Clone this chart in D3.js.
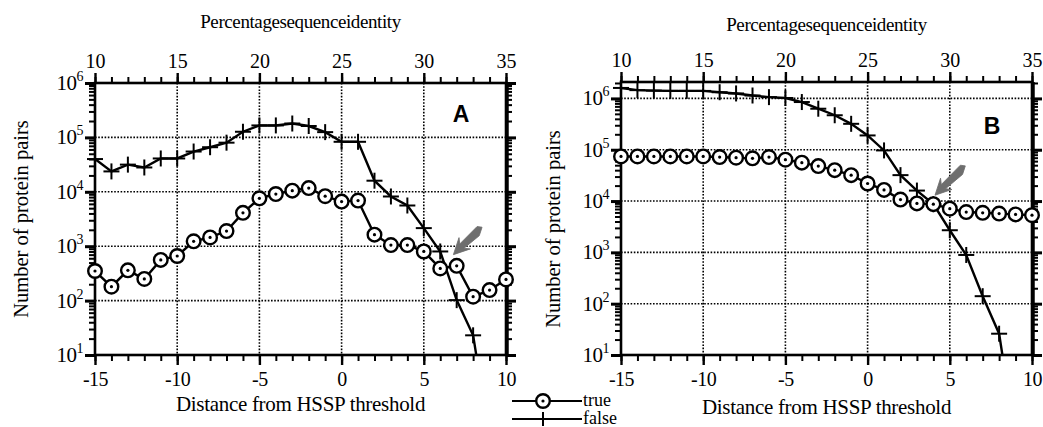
<!DOCTYPE html>
<html>
<head>
<meta charset="utf-8">
<script src="https://cdn.jsdelivr.net/npm/d3@7"></script>
<style>
  body { margin: 0; background: #fff; }
  svg text { font-family: "Liberation Serif", "DejaVu Serif", serif; fill: #000; }
</style>
</head>
<body>
<svg width="1043" height="427"></svg>
<script>
var svg = d3.select("svg");

// data
var distance = [-15,-14,-13,-12,-11,-10,-9,-8,-7,-6,-5,-4,-3,-2,-1,0,1,2,3,4,5,6,7,8,9,10];
var identityTicks = [10, 15, 20, 25, 30, 35];
var distanceTicks = [-15, -10, -5, 0, 5, 10];

var trueA  = [350,180,360,250,560,660,1230,1450,1900,4100,7600,9100,10500,11700,8300,6600,6900,1630,1050,1050,800,390,435,118,156,245];
var falseA = [40000,23700,31600,28000,41000,41000,55000,66000,80000,127000,166000,166000,180000,162000,125000,83000,83000,16000,8200,5600,2150,800,102,23,0.3,null];

var trueB  = [74000,74000,74000,74000,74000,74000,72000,70000,68000,72000,64000,56000,48000,40000,32000,22000,16500,10700,9000,8700,7100,6100,5900,5700,5500,5300];
var falseB = [1600000,1450000,1420000,1400000,1400000,1400000,1320000,1250000,1140000,1060000,1020000,850000,630000,470000,320000,190000,97000,32000,16000,8700,2700,890,140,26,0.22,null];

function drawPanel(o) {
  var g = svg.append("g");
  var x = d3.scaleLinear().domain([-15, 10]).range([o.left, o.right]);
  var xTop = d3.scaleLinear().domain([10, 35]).range([o.left, o.right]);
  var y = d3.scaleLog().domain([10, o.ymax]).range([o.bottom, o.top]);

  var clipId = "clip" + o.name;
  g.append("clipPath").attr("id", clipId).append("rect")
    .attr("x", o.left).attr("y", o.top - 12).attr("width", o.right - o.left).attr("height", o.bottom - o.top + 12);

  // dotted grid
  var grid = g.append("g").attr("stroke", "#000").attr("stroke-width", 1.6).attr("stroke-dasharray", "1.6,1.6");
  grid.selectAll(".gx").data([-10, -5, 0, 5]).enter().append("line")
    .attr("x1", function(d) { return x(d); }).attr("x2", function(d) { return x(d); })
    .attr("y1", o.top).attr("y2", o.bottom);
  grid.selectAll(".gy").data(o.gridY).enter().append("line")
    .attr("y1", function(d) { return y(d); }).attr("y2", function(d) { return y(d); })
    .attr("x1", o.left).attr("x2", o.right);

  // x axes (bottom + top), integer minor ticks
  g.append("g").attr("transform", "translate(0," + o.bottom + ")")
    .call(d3.axisBottom(x).tickValues(distance).tickSize(6).tickFormat(""))
    .call(function(a) { a.select(".domain").remove(); a.selectAll("line").attr("stroke-width", 2); });
  g.append("g").attr("transform", "translate(0," + o.bottom + ")")
    .call(d3.axisBottom(x).tickValues(distanceTicks).tickSize(10).tickPadding(7))
    .call(function(a) {
      a.select(".domain").remove();
      a.selectAll("line").attr("stroke-width", 2.4);
      a.selectAll("text").style("font-size", "20px").style("letter-spacing", "-0.5px")
        .text(function(d) { return d < 0 ? "-" + (-d) : d; });
    });
  g.append("g").attr("transform", "translate(0," + o.top + ")")
    .call(d3.axisTop(xTop).tickValues(d3.range(10, 36)).tickSize(6).tickFormat(""))
    .call(function(a) { a.select(".domain").remove(); a.selectAll("line").attr("stroke-width", 2); });
  g.append("g").attr("transform", "translate(0," + o.top + ")")
    .call(d3.axisTop(xTop).tickValues(identityTicks).tickSize(10).tickPadding(o.topPad))
    .call(function(a) {
      a.select(".domain").remove();
      a.selectAll("line").attr("stroke-width", 2.4);
      a.selectAll("text").style("font-size", "20px");
    });

  // y axes left and right, log minor ticks
  var decades = [10, 100, 1000, 10000, 100000, 1000000];
  var minorY = [];
  decades.forEach(function(dec) {
    for (var k = 2; k <= 9; k++) if (dec * k <= o.ymax) minorY.push(dec * k);
  });
  [[o.left, d3.axisLeft], [o.right, d3.axisRight]].forEach(function(s) {
    g.append("g").attr("transform", "translate(" + s[0] + ",0)")
      .call(s[1](y).tickValues(minorY).tickSize(6).tickFormat(""))
      .call(function(a) { a.select(".domain").remove(); a.selectAll("line").attr("stroke-width", 2); });
    g.append("g").attr("transform", "translate(" + s[0] + ",0)")
      .call(s[1](y).tickValues(decades).tickSize(10).tickFormat(""))
      .call(function(a) { a.select(".domain").remove(); a.selectAll("line").attr("stroke-width", 3); });
  });

  // y labels 10^n
  var lab = g.append("g").selectAll("text").data(decades).enter().append("text")
    .attr("x", o.left - 12).attr("y", function(d) { return y(d) + 7; })
    .attr("text-anchor", "end").style("font-size", "21px").style("letter-spacing", "-0.5px");
  lab.append("tspan").text("10");
  lab.append("tspan").attr("dy", -9).style("font-size", "14px").text(function(d) { return Math.round(Math.log10(d)); });

  // frame
  g.append("rect").attr("x", o.left).attr("y", o.top).attr("width", o.right - o.left).attr("height", o.bottom - o.top)
    .attr("fill", "none").attr("stroke", "#000").attr("stroke-width", 2.6);
  g.append("line").attr("x1", o.right + 1).attr("x2", o.right + 1).attr("y1", o.top).attr("y2", o.bottom)
    .attr("stroke", "#000").attr("stroke-width", 3.5);

  // series
  var line = d3.line()
    .defined(function(d) { return d[1] != null; })
    .x(function(d) { return x(d[0]); })
    .y(function(d) { return y(d[1]); });
  var tData = distance.map(function(d, i) { return [d, o.trueVals[i]]; });
  var fData = distance.map(function(d, i) { return [d, o.falseVals[i]]; });
  var plot = g.append("g").attr("clip-path", "url(#" + clipId + ")");
  [tData, fData].forEach(function(dat) {
    plot.append("path").datum(dat).attr("d", line)
      .attr("fill", "none").attr("stroke", "#000").attr("stroke-width", 2.4);
  });

  var fPts = fData.filter(function(d) { return d[1] != null && d[1] >= 10; });
  var cross = g.append("g").attr("stroke", "#000").attr("stroke-width", 2).selectAll("g").data(fPts).enter().append("g")
    .attr("transform", function(d) { return "translate(" + x(d[0]) + "," + y(d[1]) + ")"; });
  cross.append("line").attr("x1", -8).attr("x2", 8);
  cross.append("line").attr("y1", -8).attr("y2", 8);

  var circ = g.append("g").selectAll("g").data(tData).enter().append("g")
    .attr("transform", function(d) { return "translate(" + x(d[0]) + "," + y(d[1]) + ")"; });
  circ.append("circle").attr("r", 6.8).attr("fill", "#fff").attr("stroke", "#000").attr("stroke-width", 2.4);
  circ.append("circle").attr("r", 1.6).attr("fill", "#000");

  // arrow annotation
  var ax1 = x(o.arrow[0][0]), ay1 = y(o.arrow[0][1]), ax2 = x(o.arrow[1][0]), ay2 = y(o.arrow[1][1]);
  var ang = Math.atan2(ay2 - ay1, ax2 - ax1);
  var len = Math.hypot(ax2 - ax1, ay2 - ay1);
  var arr = g.append("g").attr("transform", "translate(" + ax2 + "," + ay2 + ") rotate(" + (ang * 180 / Math.PI) + ")");
  arr.append("path")
    .attr("d", "M0,0 L-16,-8 L-12,-3 L-" + (len - 8) + ",-5 L-" + len + ",-1 L-" + (len - 3) + ",3 L-12,3 L-16,8 Z")
    .attr("fill", "#6e6e6e").attr("stroke", "#6e6e6e").attr("stroke-width", 0.8);

  // panel letter
  g.append("text").attr("x", o.letter[0]).attr("y", o.letter[1])
    .style("font-family", "Liberation Sans, Arial, sans-serif").style("font-weight", "bold").style("font-size", "23px")
    .attr("text-anchor", "middle").text(o.name);

  // axis titles
  var cx = (o.left + o.right) / 2;
  g.append("text").attr("x", cx).attr("y", o.titleY).attr("text-anchor", "middle")
    .style("font-size", "19px").style("letter-spacing", "-0.4px").text("Percentagesequenceidentity");
  g.append("text").attr("x", cx).attr("y", o.xlabY).attr("text-anchor", "middle")
    .style("font-size", "21px").style("letter-spacing", "-0.3px").text("Distance from HSSP threshold");
  g.append("text").attr("transform", "translate(" + o.ylabX + "," + o.ylabCy + ") rotate(-90)")
    .attr("text-anchor", "middle").style("font-size", "20.5px").text("Number of protein pairs");
}

drawPanel({
  name: "A", left: 95, right: 506, top: 83, bottom: 355, ymax: 1e6,
  gridY: [100, 1000, 10000, 100000],
  trueVals: trueA, falseVals: falseA,
  topPad: 5, titleY: 28, xlabY: 411, ylabX: 28, ylabCy: 219,
  letter: [461, 122], arrow: [[8.5, 2300], [6.8, 700]]
});

drawPanel({
  name: "B", left: 621, right: 1032, top: 82, bottom: 355, ymax: Math.pow(10, 6.32),
  gridY: [100, 1000, 10000, 100000, 1000000],
  trueVals: trueB, falseVals: falseB,
  topPad: 5, titleY: 31, xlabY: 414, ylabX: 560, ylabCy: 229,
  letter: [992, 134], arrow: [[5.9, 50000], [4.1, 13000]]
});

// legend
var legend = svg.append("g");
var legY = [401, 419];
legend.selectAll("line").data(legY).enter().append("line")
  .attr("x1", 512).attr("x2", 582).attr("y1", function(d) { return d; }).attr("y2", function(d) { return d; })
  .attr("stroke", "#000").attr("stroke-width", 2.2);
legend.append("circle").attr("cx", 543).attr("cy", legY[0]).attr("r", 6.8).attr("fill", "#fff").attr("stroke", "#000").attr("stroke-width", 2.4);
legend.append("circle").attr("cx", 543).attr("cy", legY[0]).attr("r", 1.6).attr("fill", "#000");
legend.append("line").attr("x1", 543).attr("x2", 543).attr("y1", legY[1] - 7).attr("y2", legY[1] + 7).attr("stroke", "#000").attr("stroke-width", 2);
legend.selectAll("text").data(["true", "false"]).enter().append("text")
  .attr("x", 583).attr("y", function(d, i) { return legY[i] + 5; })
  .style("font-size", "18px").text(function(d) { return d; });
</script>
</body>
</html>
